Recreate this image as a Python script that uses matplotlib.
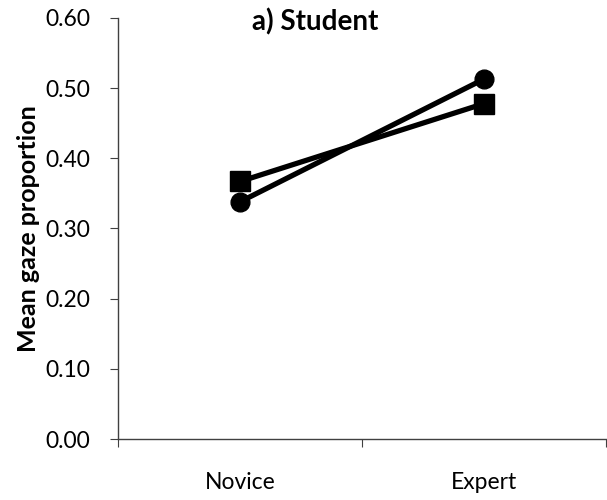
import matplotlib.pyplot as plt
from matplotlib.ticker import FixedLocator, NullFormatter

plt.rcParams['font.family'] = ['Lato', 'DejaVu Sans']

categories = ["Novice", "Expert"]
square_vals = [0.367, 0.478]
circle_vals = [0.338, 0.513]
y_ticks = [0.0, 0.1, 0.2, 0.3, 0.4, 0.5, 0.6]

fig = plt.figure(figsize=(6.07, 5.0), dpi=100)
ax = fig.add_axes([118 / 607, 1 - 439 / 500, 488 / 607, 421 / 500])

x = list(range(len(categories)))
ax.plot(x, square_vals, color="black", lw=3.8, marker="s", ms=14, zorder=3)
ax.plot(x, circle_vals, color="black", lw=3.8, marker="o", ms=13.5, zorder=3)

ax.set_xlim(-0.5, len(categories) - 0.5)
ax.set_ylim(0, 0.6)
ax.set_yticks(y_ticks)
ax.set_yticklabels([f"{v:.2f}" for v in y_ticks], fontsize=16.5)

# category labels sit between the tick marks
ax.xaxis.set_major_locator(FixedLocator([-0.5, 0.5, 1.5]))
ax.xaxis.set_major_formatter(NullFormatter())
ax.xaxis.set_minor_locator(FixedLocator(x))
ax.set_xticklabels(categories, minor=True, fontsize=16.5)
ax.tick_params(axis="x", which="minor", length=0, pad=24)
ax.tick_params(axis="x", which="major", length=6, direction="out", color="#404040")
ax.tick_params(axis="y", length=6, direction="out", color="#404040", pad=14)

for side in ["top", "right"]:
    ax.spines[side].set_visible(False)
for side in ["left", "bottom"]:
    ax.spines[side].set_color("#404040")
    ax.spines[side].set_linewidth(1.0)

ax.set_ylabel("Mean gaze proportion", fontsize=18, fontweight="bold", labelpad=4)
ax.set_title("a) Student", fontsize=20, fontweight="bold", x=0.405, y=0.99, va="center", pad=0)

fig.savefig("out.png", dpi=100)
